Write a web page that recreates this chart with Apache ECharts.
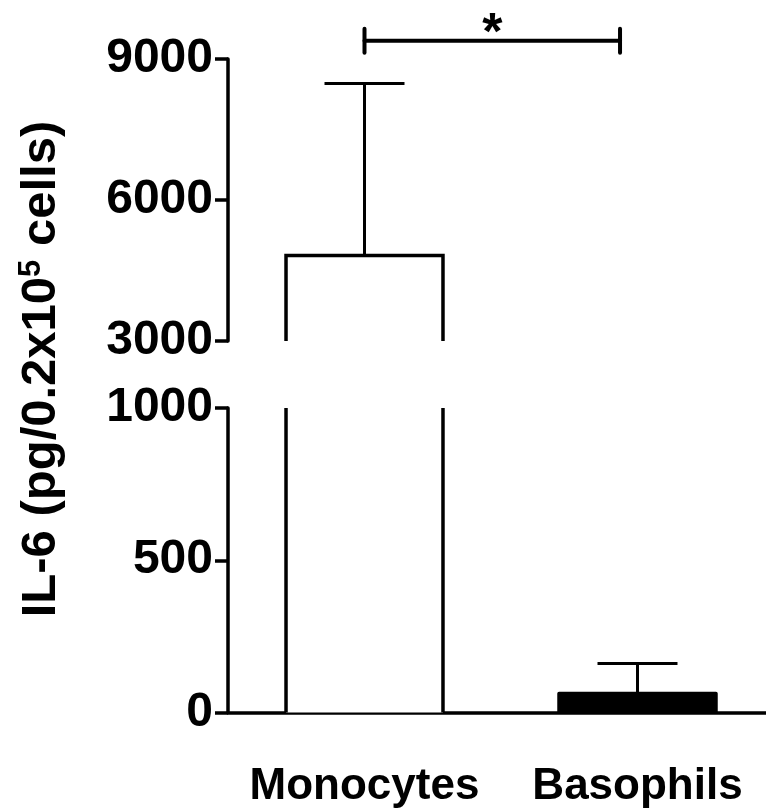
<!DOCTYPE html>
<html>
<head>
<meta charset="utf-8">
<script src="https://cdn.jsdelivr.net/npm/echarts@6/dist/echarts.min.js"></script>
<style>
  html, body { margin: 0; padding: 0; background: #fff; }
  #chart { width: 766px; height: 811px; }
</style>
</head>
<body>
<div id="chart"></div>
<script>
// ---- data ----
const categories = ['Monocytes', 'Basophils'];
const means = [4820, 62];
const errTops = [8480, 161];
const barFills = ['#ffffff', '#000000'];
const upperRange = [3000, 9000];
const upperInterval = 3000;
const lowerRange = [0, 1000];
const lowerInterval = 500;
const titleParts = ['IL-6 (pg/0.2x10', '5', ' cells)'];
const sigFrom = 0;
const sigTo = 0.936;
const sigLevel = 9390;
const sigLabel = '*';

// ---- styling ----
const FONT = '"Liberation Sans", Arial, Helvetica, sans-serif';
const BAR_RATIO = 0.575;
const CAP_RATIO = 0.293;
const LW = 3.5;

const seriesData = categories.map((c, i) => [i, means[i], errTops[i]]);

function makeRenderer(lo, hi) {
  return function (params, api) {
    const i = api.value(0), mean = api.value(1), err = api.value(2);
    const band = api.size([1, 0])[0];
    const cx = api.coord([i, lo])[0];
    const half = band * BAR_RATIO / 2, capHalf = band * CAP_RATIO / 2;
    const fill = barFills[i];
    const children = [];
    const base = Math.max(0, lo);
    if (mean > lo) {
      const top = Math.min(mean, hi);
      const yb = api.coord([i, base])[1];
      const yt = api.coord([i, top])[1];
      const open = mean > hi;
      children.push({ type: 'rect', shape: { x: cx - half, y: yt, width: 2 * half, height: yb - yt },
        style: { fill: fill, stroke: null } });
      const lineStyle = { stroke: '#000', lineWidth: LW, fill: null, lineJoin: fill === '#000000' ? 'round' : 'miter' };
      if (open) {
        children.push({ type: 'line', shape: { x1: cx - half, y1: yb, x2: cx - half, y2: yt }, style: lineStyle });
        children.push({ type: 'line', shape: { x1: cx + half, y1: yb, x2: cx + half, y2: yt }, style: lineStyle });
      } else {
        children.push({ type: 'polyline', shape: { points: [[cx - half, yb], [cx - half, yt], [cx + half, yt], [cx + half, yb]] }, style: lineStyle });
      }
    }
    if (err > lo && mean < hi) {
      const ys = api.coord([i, Math.max(mean, lo)])[1];
      const ye = api.coord([i, Math.min(err, hi)])[1];
      const es = { stroke: '#000', lineWidth: 3, fill: null };
      children.push({ type: 'line', shape: { x1: cx, y1: ys, x2: cx, y2: ye }, style: es });
      if (err <= hi) {
        children.push({ type: 'line', shape: { x1: cx - capHalf, y1: ye, x2: cx + capHalf, y2: ye }, style: es });
      }
    }
    return { type: 'group', children: children };
  };
}

function renderBracket(params, api) {
  const from = api.value(0), level = api.value(1), to = api.value(2);
  const p0 = api.coord([from, level]);
  const band = api.size([1, 0])[0];
  const x0 = p0[0], x1 = p0[0] + band * (to - from), y = p0[1];
  const st = { stroke: '#000', lineWidth: 4, fill: null, lineCap: 'round' };
  return {
    type: 'group',
    children: [
      { type: 'line', shape: { x1: x0, y1: y, x2: x1, y2: y }, style: st },
      { type: 'line', shape: { x1: x0, y1: y - 12, x2: x0, y2: y + 12 }, style: st },
      { type: 'line', shape: { x1: x1, y1: y - 12, x2: x1, y2: y + 12 }, style: st },
      { type: 'text', style: { text: sigLabel, x: (x0 + x1) / 2, y: y - 6, align: 'center', textAlign: 'center',
          verticalAlign: 'middle', textVerticalAlign: 'middle', font: 'bold 52px ' + FONT, fill: '#000' } }
    ]
  };
}

const axisLineStyle = { color: '#000', width: LW };
const yLabel = { fontSize: 48, fontWeight: 'bold', color: '#000', fontFamily: FONT, margin: 15,
  formatter: function (v) { return String(v); } };

const option = {
  animation: false,
  backgroundColor: '#fff',
  grid: [
    { left: 228, top: 59, width: 546, height: 282, outerBoundsMode: 'none', containLabel: false },
    { left: 228, top: 408, width: 546, height: 304.5, outerBoundsMode: 'none', containLabel: false }
  ],
  xAxis: [
    { type: 'category', gridIndex: 0, data: categories, show: false },
    { type: 'category', gridIndex: 1, data: categories,
      axisLine: { lineStyle: axisLineStyle },
      axisTick: { alignWithLabel: true, length: 13, lineStyle: { color: '#000', width: LW } },
      axisLabel: { interval: 0, hideOverlap: false, fontSize: 44, fontWeight: 'bold', color: '#000', fontFamily: FONT, margin: 52 },
      splitLine: { show: false } }
  ],
  yAxis: [
    { type: 'value', gridIndex: 0, min: upperRange[0], max: upperRange[1], interval: upperInterval,
      axisLine: { show: true, lineStyle: axisLineStyle },
      axisTick: { show: true, length: 13, lineStyle: { color: '#000', width: LW } },
      axisLabel: yLabel, splitLine: { show: false } },
    { type: 'value', gridIndex: 1, min: lowerRange[0], max: lowerRange[1], interval: lowerInterval,
      axisLine: { show: true, lineStyle: axisLineStyle },
      axisTick: { show: true, length: 13, lineStyle: { color: '#000', width: LW } },
      axisLabel: yLabel, splitLine: { show: false } }
  ],
  series: [
    { type: 'custom', xAxisIndex: 0, yAxisIndex: 0, data: seriesData, encode: { x: 0, y: 1 },
      renderItem: makeRenderer(upperRange[0], upperRange[1]) },
    { type: 'custom', xAxisIndex: 1, yAxisIndex: 1, data: seriesData, encode: { x: 0, y: 1 },
      renderItem: makeRenderer(lowerRange[0], lowerRange[1]) },
    { type: 'custom', xAxisIndex: 0, yAxisIndex: 0, data: [[sigFrom, sigLevel, sigTo]], encode: { x: 0, y: 1 },
      renderItem: renderBracket }
  ],
  graphic: [
    { type: 'text', x: 41, y: 369, rotation: Math.PI / 2,
      style: {
        text: '{a|' + titleParts[0] + '}{s|' + titleParts[1] + '}{a|' + titleParts[2] + '}',
        align: 'center', verticalAlign: 'middle',
        rich: {
          a: { fontSize: 49, fontWeight: 'bold', fontFamily: FONT, fill: '#000', color: '#000', lineHeight: 50 },
          s: { fontSize: 31, fontWeight: 'bold', fontFamily: FONT, fill: '#000', color: '#000', lineHeight: 30, verticalAlign: 'top' }
        }
      } }
  ]
};

const chart = echarts.init(document.getElementById('chart'), null, { renderer: 'canvas' });
chart.setOption(option);
</script>
</body>
</html>
